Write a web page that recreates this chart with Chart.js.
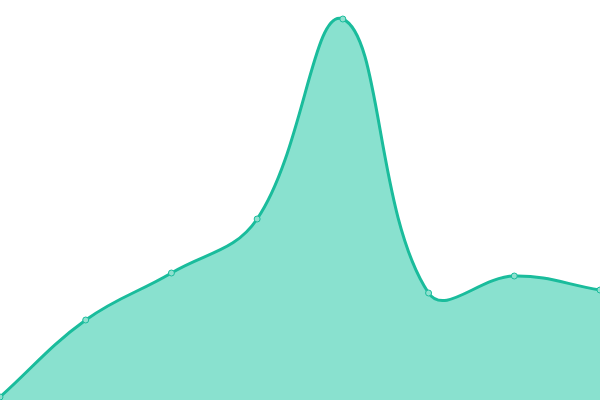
<!DOCTYPE html>
<html><head><meta charset="utf-8">
<script src="https://cdn.jsdelivr.net/npm/chart.js@4"></script>
<style>html,body{margin:0;padding:0;background:#fff}#wrap{width:600px;height:400px}</style>
</head><body><div id="wrap"><canvas id="c"></canvas></div>
<script>
const categories = ["1","2","3","4","5","6","7","8"];
const seriesValues = [0.75, 20, 31.75, 45.25, 95.25, 26.75, 31, 27.5];
new Chart(document.getElementById('c'), {
  type: 'line',
  data: { labels: categories, datasets: [{
    data: seriesValues,
    borderColor: '#1abc9c',
    backgroundColor: 'rgba(20,195,160,0.5)',
    fill: true,
    tension: 0.4,
    borderWidth: 3,
    pointRadius: 3,
    pointBackgroundColor: '#8fe0cf',
    pointBorderColor: '#1abc9c',
    pointBorderWidth: 1
  }]},
  options: {
    responsive: true, maintainAspectRatio: false, animation: false,
    layout: { padding: 0, autoPadding: false },
    plugins: { legend: { display: false }, tooltip: { enabled: false } },
    scales: {
      x: { display: false, offset: false },
      y: { display: false, min: 0, max: 100 }
    }
  }
});
</script></body></html>
